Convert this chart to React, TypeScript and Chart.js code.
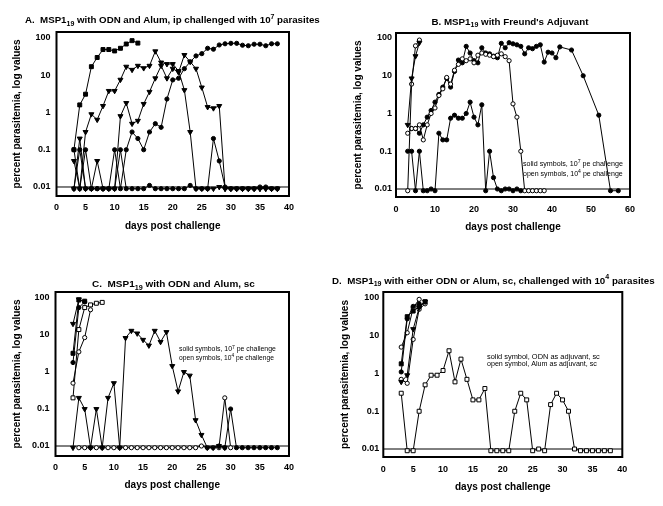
import React, { useEffect, useRef } from "react";
import { Chart, registerables } from "chart.js";

Chart.register(...registerables);

const FONT = "'Liberation Sans', Arial, Helvetica, sans-serif";

// ---------- shared axis data ----------
const Y_TICK_VALUES = [0.01, 0.1, 1, 10, 100];
const Y_TICK_LABELS = ["0.01", "0.1", "1", "10", "100"];
const DETECTION_LIMIT = 0.01;
const Y_TITLE = "percent parasitemia, log values";
const X_TITLE = "days post challenge";

// ---------- Panel A ----------
const xTicksA = [0, 5, 10, 15, 20, 25, 30, 35, 40];
const daysA = [3, 4, 5, 6, 7, 8, 9, 10, 11, 12, 13, 14, 15, 16, 17, 18, 19, 20, 21, 22, 23, 24, 25, 26, 27, 28, 29, 30, 31, 32, 33, 34, 35, 36, 37, 38];
const aSquare = [0.1, 1.6, 3.1, 17, 30, 49, 49, 45, 53, 69, 85, 73];
const aTriEarly = [0.05, 0.009, 0.3, 0.9, 0.64, 1.5, 3.8, 3.8, 7.6, 17, 14, 18, 15.5, 18, 44, 22, 20, 20, 13, 4, 0.3,
  0.009, 0.009, 0.009, 0.009, 0.01, 0.009, 0.009, 0.009, 0.009, 0.009, 0.009, 0.009, 0.009, 0.009, 0.009];
const aTriLate = [0.009, 0.2, 0.009, 0.009, 0.05, 0.009, 0.009, 0.009, 0.8, 1.8, 0.5, 0.6, 1.7, 3.6, 8.3, 18, 8.3, 15, 12, 35, 23, 15, 4.7, 1.4, 1.3, 1.5,
  0.009, 0.009, 0.009, 0.009, 0.009, 0.009, 0.009, 0.009, 0.009, 0.009];
const aDotLate = [0.1, 0.009, 0.1, 0.009, 0.009, 0.009, 0.009, 0.1, 0.009, 0.1, 0.3, 0.2, 0.1, 0.3, 0.5, 0.4, 2.3, 7.5, 8.3, 15,
  23, 33, 38, 53, 50, 65, 70, 72, 72, 64, 62, 68, 68, 62, 70, 70];
const aDotLow = [0.009, 0.1, 0.009, 0.009, 0.009, 0.009, 0.009, 0.009, 0.1, 0.009, 0.009, 0.009, 0.009, 0.011, 0.009, 0.009, 0.009, 0.009, 0.009, 0.009,
  0.011, 0.009, 0.009, 0.009, 0.2, 0.05, 0.01, 0.009, 0.009, 0.009, 0.009, 0.009, 0.01, 0.01, 0.009, 0.009];

// ---------- Panel B ----------
const xTicksB = [0, 10, 20, 30, 40, 50, 60];
const daysB = [3, 4, 5, 6, 7, 8, 9, 10, 11, 12, 13, 14, 15, 16, 17, 18, 19, 20, 21, 22, 23, 24, 25, 26, 27, 28, 29, 30, 31, 32, 33, 34, 35, 36, 37, 38];
const bTriFast = [0.5, 8.5, 33, 75];
const bOpenFast = [0.009, 6, 62, 88];
const bDotLow = [0.1, 0.1, 0.009, 0.1, 0.009, 0.009, 0.01, 0.009, 0.3, 0.2, 0.2, 0.75, 0.9, 0.75, 0.75, 1.0, 2.0, 0.8, 0.5, 1.7,
  0.009, 0.1, 0.02, 0.01, 0.009, 0.01, 0.01, 0.009, 0.01, 0.009];
const bOpenLong = [0.3, 0.4, 0.4, 0.5, 0.2, 0.5, 1.0, 1.4, 3, 4.5, 9, 6, 14, 20, 28, 25, 28, 22, 35, 40,
  37, 35, 32, 35, 38, 32, 25, 1.8, 0.8, 0.1, 0.009, 0.009, 0.009, 0.009, 0.009, 0.009];
const bDotLongDays = [4, 5, 6, 7, 8, 9, 10, 11, 12, 13, 14, 15, 16, 17, 18, 19, 20, 21, 22, 23, 24, 25, 26, 27, 28, 29, 30, 31, 32, 33,
  34, 35, 36, 37, 38, 39, 40, 41, 42, 45, 48, 52, 55, 57];
const bDotLong = [0.4, 0.4, 0.3, 0.5, 0.8, 1.2, 2, 3.2, 5, 8.5, 5, 13, 26, 22, 60, 40, 25, 22, 55, 40,
  38, 33, 30, 72, 55, 75, 70, 66, 60, 38, 55, 52, 60, 66, 23, 42, 40, 30, 58, 48, 10, 0.9, 0.009, 0.009];

// ---------- Panel C ----------
const xTicksC = [0, 5, 10, 15, 20, 25, 30, 35, 40];
const daysC = [3, 4, 5, 6, 7, 8, 9, 10, 11, 12, 13, 14, 15, 16, 17, 18, 19, 20, 21, 22, 23, 24, 25, 26, 27, 28, 29, 30, 31, 32, 33, 34, 35, 36, 37, 38];
const cTriLong = [0.009, 0.2, 0.1, 0.009, 0.1, 0.009, 0.2, 0.5, 0.009, 8.3, 13, 11, 7.4, 5.2, 13, 6.5, 12, 1.45, 0.3, 1.0,
  0.8, 0.05, 0.02, 0.009, 0.009, 0.01, 0.009];
const cDotTailDays = [28, 29, 30, 31, 32, 33, 34, 35, 36, 37, 38];
const cDotTail = [0.01, 0.009, 0.1, 0.009, 0.009, 0.009, 0.009, 0.009, 0.009, 0.009, 0.009];
const cOpenLowDays = [4, 5, 6, 7, 8, 9, 10, 11, 12, 13, 14, 15, 16, 17, 18, 19, 20, 21, 22, 23, 24, 25, 26, 27, 28, 29, 30];
const cOpenLow = [0.009, 0.009, 0.009, 0.009, 0.009, 0.009, 0.009, 0.009, 0.009, 0.009, 0.009, 0.009, 0.009, 0.009, 0.009, 0.009, 0.009, 0.009, 0.009, 0.009, 0.009,
  0.01, 0.009, 0.009, 0.009, 0.2, 0.009];
const cTriFast = [20, 92];
const cSqFast = [3.2, 88, 82];
const cDotFast = [1.8, 55, 78];
const cOpenCircle = [0.5, 3.5, 8.5, 48];
const cOpenSquare = [0.2, 14, 55, 65, 72, 76];

// ---------- Panel D ----------
const xTicksD = [0, 5, 10, 15, 20, 25, 30, 35, 40];
const daysD = [3, 4, 5, 6, 7, 8, 9, 10, 11, 12, 13, 14, 15, 16, 17, 18, 19, 20, 21, 22, 23, 24, 25, 26, 27, 28, 29, 30, 31, 32, 33, 34, 35, 36, 37, 38];
const dOpenSquare = [0.3, 0.009, 0.009, 0.1, 0.5, 0.9, 0.9, 1.2, 4, 0.6, 2.4, 0.7, 0.2, 0.2, 0.4, 0.009, 0.009, 0.009, 0.009, 0.1,
  0.3, 0.2, 0.009, 0.01, 0.009, 0.15, 0.3, 0.2, 0.1, 0.01, 0.009, 0.009, 0.009, 0.009, 0.009, 0.009];
const dDot = [1.1, 28, 60, 70];
const dSquare = [1.8, 32, 45, 60, 80];
const dTri = [0.6, 0.9, 15, 55, 80];
const dOpenCircle = [5, 12, 55, 92];
const dOpenCircle2 = [0.7, 0.55, 8, 50, 70];

// ---------- rendering helpers ----------
type Marker = "circle" | "rect" | "tri";
type Series = { days: number[]; values: number[]; marker: Marker; open: boolean };
type Seg = [string, "n" | "sub" | "sup"];
type TextItem = { segs: Seg[]; x: number; y: number; size: number; bold: boolean; align: "left" | "center"; width?: number };

const TITLE_A: Seg[] = [["A.  MSP1", "n"], ["19", "sub"], [" with ODN and Alum, ip challenged with 10", "n"], ["7", "sup"], [" parasites", "n"]];
const TITLE_B: Seg[] = [["B. MSP1", "n"], ["19", "sub"], [" with Freund's Adjuvant", "n"]];
const TITLE_C: Seg[] = [["C.  MSP1", "n"], ["19", "sub"], [" with ODN and Alum, sc", "n"]];
const TITLE_D: Seg[] = [["D.  MSP1", "n"], ["19", "sub"], [" with either ODN or Alum, sc, challenged with 10", "n"], ["4", "sup"], [" parasites", "n"]];
const NOTE_SOLID: Seg[] = [["solid symbols, 10", "n"], ["7", "sup"], [" pe challenge", "n"]];
const NOTE_OPEN: Seg[] = [["open symbols, 10", "n"], ["4", "sup"], [" pe challenge", "n"]];
const NOTE_D1: Seg[] = [["solid symbol, ODN as adjuvant, sc", "n"]];
const NOTE_D2: Seg[] = [["open symbol, Alum as adjuvant, sc", "n"]];

type PanelCfg = {
  box: { x: number; y: number; w: number; h: number };
  area: { l: number; t: number; r: number; b: number };
  yMin: number;
  yMax: number;
  xTicks: number[];
  series: Series[];
  yTitleX: number;
  xTitleY: number;
  yTickPad: number;
  xTickPad: number;
  texts: TextItem[];
};

function drawRich(ctx: CanvasRenderingContext2D, item: TextItem, ox: number, oy: number) {
  const weight = item.bold ? "bold " : "";
  const fontFor = (size: number, k: string) => `${weight}${k === "n" ? size : size * 0.72}px ${FONT}`;
  const measure = (size: number) =>
    item.segs.reduce((w, [t, k]) => {
      ctx.font = fontFor(size, k);
      return w + ctx.measureText(t).width;
    }, 0);
  let size = item.size;
  if (item.width) size = (size * item.width) / measure(size);
  const total = measure(size);
  let cx = (item.align === "center" ? item.x - total / 2 : item.x) - ox;
  const base = item.y - oy + size * 0.36;
  ctx.save();
  ctx.fillStyle = "#000";
  ctx.textAlign = "left";
  ctx.textBaseline = "alphabetic";
  for (const [t, k] of item.segs) {
    ctx.font = fontFor(size, k);
    const dy = k === "sub" ? size * 0.3 : k === "sup" ? -size * 0.42 : 0;
    ctx.fillText(t, cx, base + dy);
    cx += ctx.measureText(t).width;
  }
  ctx.restore();
}

function makeDataset(s: Series) {
  return {
    data: s.values.map((v, i) => ({ x: s.days[i], y: v })),
    borderColor: "#000",
    borderWidth: 1,
    tension: 0,
    fill: false,
    pointStyle: s.marker === "tri" ? "triangle" : s.marker,
    pointRotation: s.marker === "tri" ? 180 : 0,
    pointRadius: s.marker === "tri" ? 2.9 : s.marker === "rect" ? 2.8 : 2.1,
    pointBackgroundColor: s.open ? "#fff" : "#000",
    pointBorderColor: "#000",
    pointBorderWidth: 1,
  };
}

function buildConfig(p: PanelCfg): any {
  const lh = 12;
  const axisLeft = p.yTitleX - lh / 2 - p.box.x;
  const yWidth = p.area.l - (p.yTitleX - lh / 2);
  const xHeight = p.xTitleY + lh / 2 - p.area.b;
  const padding = {
    left: axisLeft,
    top: p.area.t - p.box.y,
    right: p.box.x + p.box.w - p.area.r,
    bottom: p.box.y + p.box.h - p.area.b - xHeight,
  };
  const xMin = p.xTicks[0];
  const xMax = p.xTicks[p.xTicks.length - 1];
  const datasets: any[] = p.series.map(makeDataset);
  datasets.push({
    data: [{ x: xMin, y: DETECTION_LIMIT }, { x: xMax, y: DETECTION_LIMIT }],
    borderColor: "#000",
    borderWidth: 1,
    pointRadius: 0,
    tension: 0,
    fill: false,
  });
  const tickFont = { family: FONT, size: 9, weight: "bold" as const };
  const titleFont = { family: FONT, size: 10, weight: "bold" as const, lineHeight: 1.2 };
  const framePlugin = {
    id: "frame",
    afterDraw(chart: any) {
      const { ctx, chartArea: a } = chart;
      ctx.save();
      ctx.strokeStyle = "#000";
      ctx.lineWidth = 2;
      ctx.strokeRect(a.left, a.top, a.right - a.left, a.bottom - a.top);
      ctx.restore();
      for (const t of p.texts) drawRich(ctx, t, p.box.x, p.box.y);
    },
  };
  return {
    type: "line",
    data: { datasets },
    options: {
      animation: false,
      responsive: false,
      maintainAspectRatio: false,
      layout: { padding },
      plugins: { legend: { display: false }, tooltip: { enabled: false }, title: { display: false } },
      scales: {
        x: {
          type: "linear",
          min: xMin,
          max: xMax,
          afterBuildTicks: (s: any) => {
            s.ticks = p.xTicks.map((v) => ({ value: v }));
          },
          afterFit: (s: any) => {
            s.height = xHeight;
          },
          grid: { display: false, drawTicks: false },
          border: { display: false },
          ticks: { font: tickFont, color: "#000", padding: p.xTickPad, maxRotation: 0, autoSkip: false },
          title: { display: true, text: X_TITLE, font: titleFont, color: "#000", padding: 0 },
        },
        y: {
          type: "logarithmic",
          min: p.yMin,
          max: p.yMax,
          afterBuildTicks: (s: any) => {
            s.ticks = Y_TICK_VALUES.map((v) => ({ value: v }));
          },
          afterFit: (s: any) => {
            s.width = yWidth;
          },
          grid: { display: false, drawTicks: false },
          border: { display: false },
          ticks: {
            font: tickFont,
            color: "#000",
            padding: p.yTickPad,
            autoSkip: false,
            callback: (v: number) => {
              const i = Y_TICK_VALUES.indexOf(v);
              return i >= 0 ? Y_TICK_LABELS[i] : "";
            },
          },
          title: { display: true, text: Y_TITLE, font: titleFont, color: "#000", padding: 0 },
        },
      },
    },
    plugins: [framePlugin],
  };
}

const panels: PanelCfg[] = [
  {
    box: { x: 0, y: 0, w: 332, h: 250 },
    area: { l: 56.5, t: 32, r: 289, b: 196 },
    yMin: 0.00573,
    yMax: 145,
    xTicks: xTicksA,
    series: [
      { days: daysA, values: aSquare, marker: "rect", open: false },
      { days: daysA, values: aTriEarly, marker: "tri", open: false },
      { days: daysA, values: aTriLate, marker: "tri", open: false },
      { days: daysA, values: aDotLate, marker: "circle", open: false },
      { days: daysA, values: aDotLow, marker: "circle", open: false },
    ],
    yTitleX: 17,
    xTitleY: 226,
    yTickPad: 6,
    xTickPad: 6,
    texts: [{ segs: TITLE_A, x: 25, y: 20, size: 10.5, bold: true, align: "left", width: 295 }],
  },
  {
    box: { x: 332, y: 0, w: 331, h: 250 },
    area: { l: 396, t: 33, r: 630, b: 197 },
    yMin: 0.00614,
    yMax: 135.5,
    xTicks: xTicksB,
    series: [
      { days: daysB, values: bTriFast, marker: "tri", open: false },
      { days: daysB, values: bOpenFast, marker: "circle", open: true },
      { days: daysB, values: bDotLow, marker: "circle", open: false },
      { days: daysB, values: bOpenLong, marker: "circle", open: true },
      { days: bDotLongDays, values: bDotLong, marker: "circle", open: false },
    ],
    yTitleX: 358,
    xTitleY: 227,
    yTickPad: 4,
    xTickPad: 7,
    texts: [
      { segs: TITLE_B, x: 510, y: 21, size: 10.5, bold: true, align: "center", width: 157 },
      { segs: NOTE_SOLID, x: 523, y: 163, size: 7, bold: false, align: "left", width: 100 },
      { segs: NOTE_OPEN, x: 523, y: 173, size: 7, bold: false, align: "left", width: 100 },
    ],
  },
  {
    box: { x: 0, y: 250, w: 332, h: 256 },
    area: { l: 55.5, t: 292, r: 289, b: 456 },
    yMin: 0.00537,
    yMax: 145,
    xTicks: xTicksC,
    series: [
      { days: daysC, values: cTriFast, marker: "tri", open: false },
      { days: daysC, values: cSqFast, marker: "rect", open: false },
      { days: daysC, values: cDotFast, marker: "circle", open: false },
      { days: daysC, values: cOpenCircle, marker: "circle", open: true },
      { days: daysC, values: cOpenSquare, marker: "rect", open: true },
      { days: daysC, values: cTriLong, marker: "tri", open: false },
      { days: cDotTailDays, values: cDotTail, marker: "circle", open: false },
      { days: cOpenLowDays, values: cOpenLow, marker: "circle", open: true },
    ],
    yTitleX: 17,
    xTitleY: 485,
    yTickPad: 6,
    xTickPad: 6,
    texts: [
      { segs: TITLE_C, x: 173.5, y: 283, size: 10.5, bold: true, align: "center", width: 163 },
      { segs: NOTE_SOLID, x: 179, y: 349, size: 7, bold: false, align: "left", width: 97 },
      { segs: NOTE_OPEN, x: 179, y: 357.5, size: 7, bold: false, align: "left", width: 95 },
    ],
  },
  {
    box: { x: 332, y: 250, w: 331, h: 256 },
    area: { l: 383.3, t: 292, r: 622.3, b: 457 },
    yMin: 0.00614,
    yMax: 144,
    xTicks: xTicksD,
    series: [
      { days: daysD, values: dDot, marker: "circle", open: false },
      { days: daysD, values: dSquare, marker: "rect", open: false },
      { days: daysD, values: dTri, marker: "tri", open: false },
      { days: daysD, values: dOpenCircle, marker: "circle", open: true },
      { days: daysD, values: dOpenCircle2, marker: "circle", open: true },
      { days: daysD, values: dOpenSquare, marker: "rect", open: true },
    ],
    yTitleX: 345,
    xTitleY: 487,
    yTickPad: 4,
    xTickPad: 7,
    texts: [
      { segs: TITLE_D, x: 332, y: 280, size: 10.5, bold: true, align: "left", width: 323 },
      { segs: NOTE_D1, x: 487, y: 356, size: 7, bold: false, align: "left", width: 113 },
      { segs: NOTE_D2, x: 487, y: 363.5, size: 7, bold: false, align: "left", width: 110 },
    ],
  },
];

function Panel({ p }: { p: PanelCfg }) {
  const ref = useRef<HTMLCanvasElement>(null);
  useEffect(() => {
    const chart = new Chart(ref.current as HTMLCanvasElement, buildConfig(p));
    return () => chart.destroy();
  }, [p]);
  return (
    <canvas
      ref={ref}
      width={p.box.w}
      height={p.box.h}
      style={{ position: "absolute", left: p.box.x, top: p.box.y, width: p.box.w, height: p.box.h }}
    />
  );
}

export default function App() {
  return (
    <div style={{ position: "fixed", left: 0, top: 0, width: 663, height: 506, background: "#fff", overflow: "hidden" }}>
      {panels.map((p, i) => (
        <Panel key={i} p={p} />
      ))}
    </div>
  );
}
